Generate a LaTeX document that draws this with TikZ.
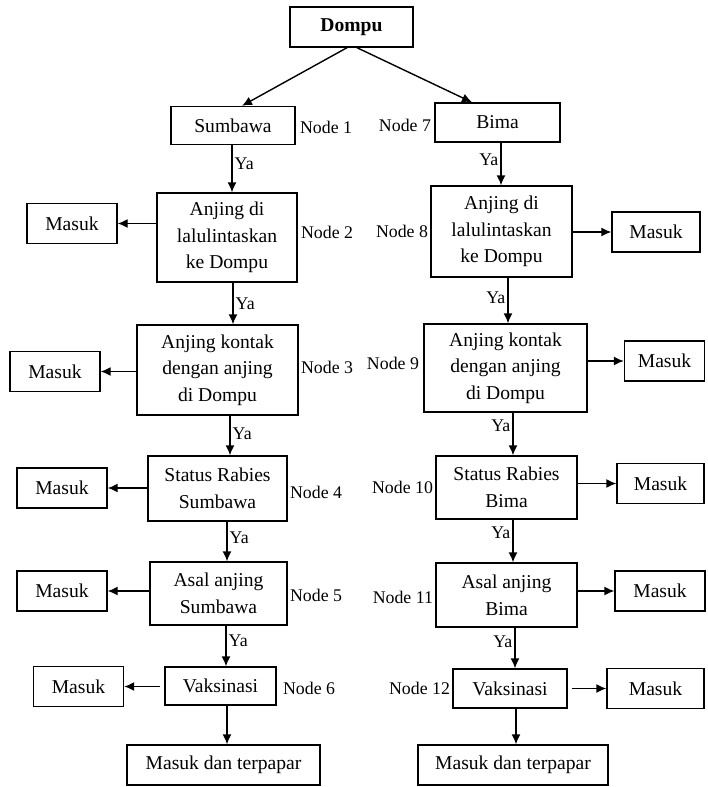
\documentclass[tikz,border=0pt]{standalone}
\usepackage{fontspec}
\setmainfont{Liberation Serif}
\usetikzlibrary{positioning, calc, arrows.meta}

\begin{document}
\begin{tikzpicture}[x=0.5pt, y=-0.5pt, >={Latex[length=5pt, width=4.5pt]},
    box/.style={rectangle, draw, line width=0.7pt, align=center, inner sep=0pt, font=\fontsize{9.8}{13.3}\selectfont},
    masuk/.style={box, minimum width=45pt, minimum height=20pt},
    lbl/.style={inner sep=1pt, font=\fontsize{8.9}{11}\selectfont},
    link/.style={->, line width=0.7pt}]

    \useasboundingbox (0,0) rectangle (707,787);

    % Root
    \node[box, minimum width=61.5pt, minimum height=20pt] (dompu) at (351.5,27) {\textbf{Dompu}};

    % Sumbawa branch
    \node[box, minimum width=62pt, minimum height=19pt] (sumbawa) at (233,125.5) {Sumbawa};
    \node[box, minimum width=70pt, minimum height=44.5pt] (anjingL) at (227,237.5) {Anjing di\\ lalulintaskan\\ ke Dompu};
    \node[box, minimum width=80.5pt, minimum height=45pt] (kontakL) at (217.5,370) {Anjing kontak\\ dengan anjing\\ di Dompu};
    \node[box, minimum width=69.5pt, minimum height=32.5pt] (statusL) at (217.5,488.5) {Status Rabies\\ Sumbawa};
    \node[box, minimum width=68.5pt, minimum height=31.5pt] (asalL) at (218.5,593.5) {Asal anjing\\ Sumbawa};
    \node[box, minimum width=55.5pt, minimum height=19pt] (vaksL) at (220.5,686) {Vaksinasi};
    \node[box, minimum width=96.5pt, minimum height=20pt] (terpaparL) at (223.5,765) {Masuk dan terpapar};

    % Bima branch
    \node[box, minimum width=62.5pt, minimum height=19.5pt] (bima) at (497.5,122.5) {Bima};
    \node[box, minimum width=70.5pt, minimum height=45.5pt] (anjingR) at (501.5,231.5) {Anjing di\\ lalulintaskan\\ ke Dompu};
    \node[box, minimum width=81.5pt, minimum height=44pt] (kontakR) at (505.5,368) {Anjing kontak\\ dengan anjing\\ di Dompu};
    \node[box, minimum width=70.5pt, minimum height=31.5pt] (statusR) at (506.5,487.5) {Status Rabies\\ Bima};
    \node[box, minimum width=70.5pt, minimum height=32pt] (asalR) at (506.5,595) {Asal anjing\\ Bima};
    \node[box, minimum width=57pt, minimum height=19.5pt] (vaksR) at (510,688.5) {Vaksinasi};
    \node[box, minimum width=95pt, minimum height=20pt] (terpaparR) at (513,765) {Masuk dan terpapar};

    % Masuk boxes
    \node[masuk] (mL2) at (72,223.5) {Masuk};
    \node[masuk] (mL3) at (55,371.5) {Masuk};
    \node[masuk] (mL4) at (62,488) {Masuk};
    \node[masuk] (mL5) at (62,591) {Masuk};
    \node[masuk] (mL6) at (78.5,686.5) {Masuk};
    \node[masuk, minimum width=44pt] (mR2) at (656,232) {Masuk};
    \node[masuk, minimum width=40pt] (mR3) at (664.5,361) {Masuk};
    \node[masuk, minimum width=43.5pt] (mR4) at (660.5,483.5) {Masuk};
    \node[masuk] (mR5) at (660,591) {Masuk};
    \node[masuk, minimum width=48.5pt] (mR6) at (655.5,688.5) {Masuk};

    % Node labels
    \node[lbl, right=1pt of sumbawa, yshift=-0.75pt] (n1) {Node 1};
    \node[lbl, right=0.5pt of anjingL, yshift=2.75pt] (n2) {Node 2};
    \node[lbl, right=0pt of kontakL, yshift=1.5pt] (n3) {Node 3};
    \node[lbl, right=0pt of statusL, yshift=-1.75pt] (n4) {Node 4};
    \node[lbl, right=0pt of asalL, yshift=-0.75pt] (n5) {Node 5};
    \node[lbl, right=2pt of vaksL, yshift=-1pt] (n6) {Node 6};
    \node[lbl, left=0.5pt of bima, yshift=-1.25pt] (n7) {Node 7};
    \node[lbl, left=0pt of anjingR] (n8) {Node 8};
    \node[lbl, left=1pt of kontakR, yshift=2.5pt] (n9) {Node 9};
    \node[lbl, left=0pt of statusR] (n10) {Node 10};
    \node[lbl, left=0pt of asalR, yshift=-1pt] (n11) {Node 11};
    \node[lbl, left=0pt of vaksR] (n12) {Node 12};

    % Root to branches
    \draw[link] ([xshift=-2.25pt]dompu.south) -- ([xshift=4.5pt]sumbawa.north);
    \draw[link] ([xshift=2.75pt]dompu.south) -- ([xshift=-12.75pt]bima.north);

    % Ya chain, Sumbawa
    \draw[link] ([xshift=-0.5pt]sumbawa.south) -- ([xshift=-0.5pt]sumbawa.south |- anjingL.north) node[lbl, right, pos=0.4] {Ya};
    \draw[link] ([xshift=3pt]anjingL.south) -- ([xshift=3pt]anjingL.south |- kontakL.north) node[lbl, right, pos=0.5] {Ya};
    \draw[link] ([xshift=6.25pt]kontakL.south) -- ([xshift=6.25pt]kontakL.south |- statusL.north) node[lbl, right, pos=0.45] {Ya};
    \draw[link] ([xshift=4.75pt]statusL.south) -- ([xshift=4.75pt]statusL.south |- asalL.north) node[lbl, right, pos=0.4] {Ya};
    \draw[link] ([xshift=3.75pt]asalL.south) -- ([xshift=3.75pt]asalL.south |- vaksL.north) node[lbl, right, pos=0.38] {Ya};
    \draw[link] ([xshift=3.25pt]vaksL.south) -- ([xshift=3.25pt]vaksL.south |- terpaparL.north);

    % Ya chain, Bima
    \draw[link] ([xshift=1.75pt]bima.south) -- ([xshift=1.75pt]bima.south |- anjingR.north) node[lbl, left, pos=0.4] {Ya};
    \draw[link] ([xshift=3.25pt]anjingR.south) -- ([xshift=3.25pt]anjingR.south |- kontakR.north) node[lbl, left, pos=0.45] {Ya};
    \draw[link] ([xshift=3.75pt]kontakR.south) -- ([xshift=3.75pt]kontakR.south |- statusR.north) node[lbl, left, pos=0.3] {Ya};
    \draw[link] ([xshift=3.25pt]statusR.south) -- ([xshift=3.25pt]statusR.south |- asalR.north) node[lbl, left, pos=0.3] {Ya};
    \draw[link] ([xshift=4.25pt]asalR.south) -- ([xshift=4.25pt]asalR.south |- vaksR.north) node[lbl, left, pos=0.35] {Ya};
    \draw[link] ([xshift=3pt]vaksR.south) -- ([xshift=3pt]vaksR.south |- terpaparR.north);

    % Exits to Masuk
    \draw[link] (anjingL.west |- mL2) -- (mL2.east);
    \draw[link] (kontakL.west |- mL3) -- (mL3.east);
    \draw[link] (statusL.west |- mL4) -- (mL4.east);
    \draw[link] (asalL.west |- mL5) -- (mL5.east);
    \draw[link] ([xshift=-2pt]vaksL.west |- mL6) -- (mL6.east);
    \draw[link] (anjingR.east |- mR2) -- (mR2.west);
    \draw[link] (kontakR.east |- mR3) -- (mR3.west);
    \draw[link] (statusR.east |- mR4) -- (mR4.west);
    \draw[link] (asalR.east |- mR5) -- (mR5.west);
    \draw[link] ([xshift=2pt]vaksR.east |- mR6) -- (mR6.west);
\end{tikzpicture}
\end{document}
